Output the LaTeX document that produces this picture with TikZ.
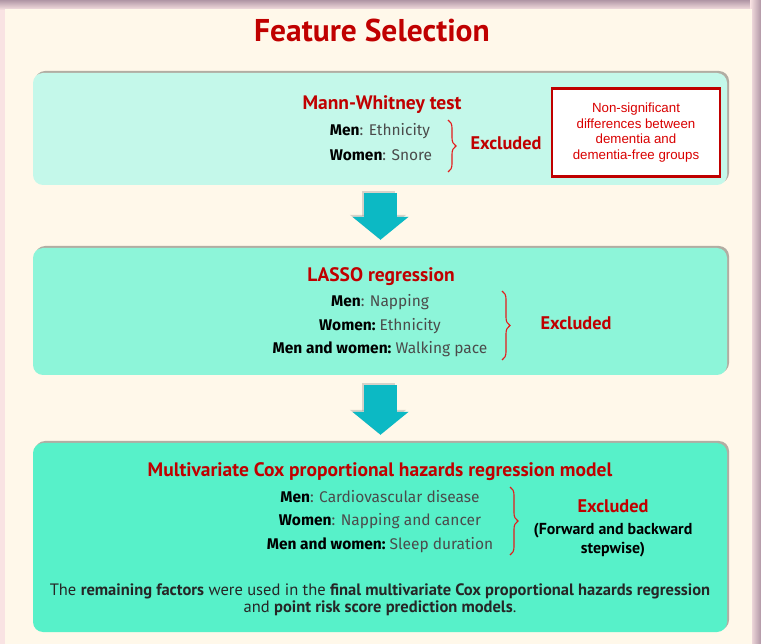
\documentclass[tikz,border=0pt]{standalone}
\usepackage{fontspec}
\setmainfont{Fira Sans}
\newfontfamily\headfont{PT Sans}
\newfontfamily\notefont{Liberation Sans}
\usepackage{tikz}
\usetikzlibrary{arrows.meta,calc,positioning,shadows,decorations.pathreplacing}
\definecolor{titlered}{RGB}{192,0,0}
\definecolor{bracered}{RGB}{228,28,28}
\definecolor{stepone}{RGB}{196,248,234}
\definecolor{steptwo}{RGB}{141,245,217}
\definecolor{stepthree}{RGB}{87,241,201}
\definecolor{flowarrow}{RGB}{12,185,196}
\definecolor{panelcream}{RGB}{255,248,234}
\definecolor{framepink}{RGB}{249,227,227}
\definecolor{framedark}{RGB}{176,150,165}
\definecolor{bodygray}{RGB}{75,75,75}
\newcommand{\factorline}[2]{\textbf{\color{black}#1}\textcolor{bodygray}{#2}}
\tikzset{
  stepbox/.style={rounded corners=10pt,minimum width=694pt,
    drop shadow={shadow xshift=2pt,shadow yshift=2pt,fill=black,opacity=0.3}},
  stephead/.style={font=\headfont\bfseries\fontsize{19.5}{23}\selectfont,text=titlered},
  factor/.style={font=\fontsize{15.5}{18}\selectfont,inner sep=0pt},
  exclbrace/.style={draw=bracered,line width=1.1pt,
    decorate,decoration={brace,amplitude=8pt}},
  excl/.style={font=\headfont\bfseries\fontsize{18.3}{21}\selectfont,text=titlered},
  flowdown/.style={draw=flowarrow,line width=33pt,
    -{Triangle[width=55pt,length=23pt]}},
  flowshade/.style={draw=black!45,opacity=0.35,line width=33pt,
    -{Triangle[width=55pt,length=23pt]}}
}

\begin{document}
\begin{tikzpicture}[x=1pt,y=-1pt]
  \useasboundingbox (0,0) rectangle (761,644);
  % frame and panel
  \fill[framepink] (0,0) rectangle (761,644);
  \fill[top color=framedark,bottom color=framepink] (0,0) rectangle (761,10);
  \fill[left color=framepink,right color=framedark] (750,0) rectangle (761,644);
  \fill[panelcream] (5,9) rectangle (752,644);
  \node[font=\headfont\bfseries\fontsize{31.5}{36}\selectfont,text=titlered] (title) at (372,30) {Feature Selection};

  % step boxes
  \node[stepbox,fill=stepone,minimum height=112pt] (mw) at (380,129) {};
  \node[stepbox,fill=steptwo,minimum height=127pt] (lasso) at (380,311.5) {};
  \node[stepbox,fill=stepthree,minimum height=189pt] (cox) at (380,537.5) {};

  % arrows between steps
  \draw[flowshade] ($(mw.south)+(-2,6)$) -- ($(lasso.north)+(-2,-10)$);
  \draw[flowdown] ($(mw.south)+(0.5,8)$) -- ($(lasso.north)+(0.5,-8)$);
  \draw[flowshade] ($(lasso.south)+(-2,8)$) -- ($(cox.north)+(-2,-10)$);
  \draw[flowdown] ($(lasso.south)+(0.5,10)$) -- ($(cox.north)+(0.5,-8)$);

  % Mann-Whitney
  \node[stephead] (mwhead) at (382,105) {Mann-Whitney test};
  \node[factor] (mwmen) at (380,131) {\factorline{Men}{: Ethnicity}};
  \node[factor] (mwwomen) at (381,155) {\factorline{Women}{: Snore}};
  \coordinate (mwtop) at (448,120);
  \coordinate (mwbot) at (448,172);
  \draw[exclbrace] (mwtop) -- (mwbot);
  \node[excl,anchor=west] (mwexcl) at (467,143) {Excluded};
  \node[draw=titlered,line width=2.4pt,fill=white,minimum width=168pt,minimum height=88pt,
    align=center,text=red!85!black,font=\notefont\fontsize{13.3}{15.8}\selectfont]
    (nonsig) at (636,132.5) {Non-significant\\differences between\\dementia and\\dementia-free groups};

  % LASSO
  \node[stephead] (lassohead) at (381,277) {LASSO regression};
  \node[factor] (lassomen) at (380,302) {\factorline{Men}{: Napping}};
  \node[factor] (lassowomen) at (380,326) {\factorline{Women:}{\ Ethnicity}};
  \node[factor] (lassoboth) at (380,349) {\factorline{Men and women:}{\ Walking pace}};
  \coordinate (lassotop) at (502,291);
  \coordinate (lassobot) at (502,360);
  \draw[exclbrace] (lassotop) -- (lassobot);
  \node[excl,anchor=west] (lassoexcl) at (537,323) {Excluded};

  % Cox model
  \node[stephead] (coxhead) at (380,472) {Multivariate Cox proportional hazards regression model};
  \node[factor] (coxmen) at (380,497) {\factorline{Men}{: Cardiovascular disease}};
  \node[factor] (coxwomen) at (380,521) {\factorline{Women}{: Napping and cancer}};
  \node[factor] (coxboth) at (380,545) {\factorline{Men and women:}{\ Sleep duration}};
  \coordinate (coxtop) at (510,487);
  \coordinate (coxbot) at (510,555);
  \draw[exclbrace] (coxtop) -- (coxbot);
  \node[excl] (coxexcl) at (613,506) {Excluded};
  \node[font=\headfont\bfseries\fontsize{15.9}{19}\selectfont,align=center,below=4pt of coxexcl]
    (coxway) {(Forward and backward\\stepwise)};
  \node[font=\headfont\fontsize{16.5}{17}\selectfont,align=center,text=black!85] (coxnote) at (380,600)
    {The \textbf{remaining factors} were used in the \textbf{final multivariate Cox proportional hazards regression}\\
     and \textbf{point risk score prediction models}.};
\end{tikzpicture}
\end{document}
